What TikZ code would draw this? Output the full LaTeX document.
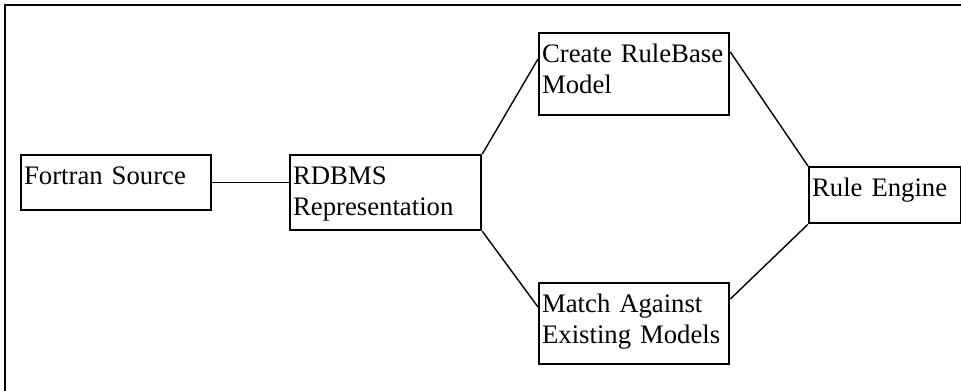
\documentclass[tikz,border=0pt]{standalone}
\usepackage{fontspec}
\setmainfont{Liberation Serif}
\usepackage{tikz}
\usetikzlibrary{calc}

\begin{document}
\begin{tikzpicture}[
  x=0.025cm, y=-0.025cm,
  blk/.style={draw, line width=1.6pt, anchor=north west, align=left,
              inner xsep=0.075cm, inner ysep=0pt, text height=0.725cm,
              font=\fontsize{19pt}{22pt}\selectfont},
  link/.style={line width=1pt}]

\useasboundingbox (0,0) rectangle (961,390);
\clip (0,0) rectangle (961,390);

% outer frame, runs off the page
\draw[line width=1.6pt] (5,400) |- (975,5);

\node[blk, text width=4.6cm, text depth=0.65cm] (fortran) at (20,154) {Fortran Source};
\node[blk, text width=4.625cm, text depth=1.15cm] (rdbms) at (289,154) {RDBMS\\Representation};
\node[blk, text width=4.6cm, text depth=1.325cm] (create) at (538,32) {Create RuleBase\\Model};
\node[blk, text width=4.6cm, text depth=1.3cm] (match) at (538,282) {Match Against\\Existing Models};
\node[blk, text width=3.65cm, text depth=0.675cm] (rule) at (808,166) {Rule Engine};

\draw[link] (fortran.east) -- (fortran.east -| rdbms.west);
\draw[link] (rdbms.north east) -- ($(create.north west)+(0,27)$);
\draw[link] (rdbms.south east) -- ($(match.north west)+(0,25)$);
\draw[link] ($(create.north east)+(0,20)$) -- (rule.north west);
\draw[link] ($(match.north east)+(0,17)$) -- (rule.south west);
\end{tikzpicture}
\end{document}
